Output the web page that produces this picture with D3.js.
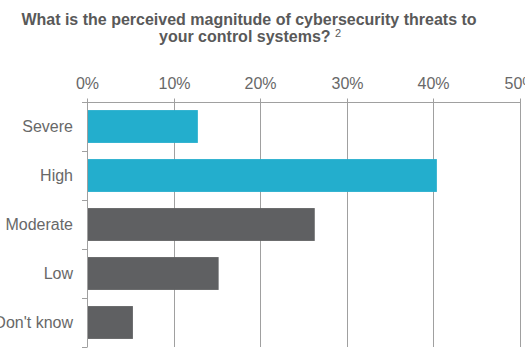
<!DOCTYPE html>
<html>
<head>
<meta charset="utf-8">
<script src="https://cdn.jsdelivr.net/npm/d3@7"></script>
<style>
  body { margin: 0; background: #fff; }
  svg { display: block; font-family: "Liberation Sans", Arial, sans-serif; }
</style>
</head>
<body>
<svg id="chart" width="525" height="362"></svg>
<script>
// chart data
const categories = ["Severe", "High", "Moderate", "Low", "Don't know"];
const values = [12.8, 40.4, 26.3, 15.2, 5.3];
const barColors = ["#23aecd", "#23aecd", "#5f6062", "#5f6062", "#5f6062"];
const tickValues = [0, 10, 20, 30, 40, 50];
const titleLines = ["What is the perceived magnitude of cybersecurity threats to", "your control systems?"];

const svg = d3.select("#chart");
const textColor = "#595959";
const labelColor = "#686868";
const axisColor = "#a0a0a0";

const x = d3.scaleLinear().domain([0, 50]).range([87, 520]);
const y = d3.scaleBand()
  .domain(categories)
  .range([102, 347])
  .paddingInner(0.33)
  .paddingOuter(0.165);

// title
svg.append("text")
  .attr("x", 249).attr("y", 25)
  .attr("text-anchor", "middle")
  .attr("font-size", 16).attr("font-weight", "bold")
  .attr("fill", textColor)
  .text(titleLines[0]);
const t2 = svg.append("text")
  .attr("x", 159).attr("y", 42)
  .attr("font-size", 16).attr("font-weight", "bold")
  .attr("fill", textColor);
t2.append("tspan").text(titleLines[1] + " ");
t2.append("tspan").attr("font-size", 11).attr("font-weight", "normal").attr("dy", -5).text("2");

// gridlines
svg.append("g")
  .selectAll("line")
  .data(tickValues.slice(1))
  .join("line")
  .attr("x1", d => Math.round(x(d)) + 0.5)
  .attr("x2", d => Math.round(x(d)) + 0.5)
  .attr("y1", 102).attr("y2", 347)
  .attr("stroke", axisColor);

// bars
svg.append("g")
  .selectAll("rect")
  .data(categories)
  .join("rect")
  .attr("x", x(0) + 1)
  .attr("y", d => y(d))
  .attr("width", (d, i) => x(values[i]) - x(0) - 1)
  .attr("height", y.bandwidth())
  .attr("fill", (d, i) => barColors[i]);

// top axis
const xAxis = svg.append("g")
  .attr("transform", "translate(0,102.5)")
  .call(d3.axisTop(x).tickValues(tickValues).tickFormat(d => d + "%").tickSize(4).tickPadding(10));
xAxis.select(".domain").attr("stroke", axisColor).attr("d", "M82,0H520.5");
xAxis.selectAll(".tick line").attr("stroke", axisColor);
xAxis.selectAll(".tick").attr("transform", d => `translate(${Math.round(x(d)) + 0.5},0)`);
xAxis.selectAll(".tick text")
  .attr("fill", labelColor)
  .attr("font-size", 16)
  .attr("font-family", "Liberation Sans, Arial, sans-serif");

// left axis with boundary ticks
const left = svg.append("g");
left.append("line")
  .attr("x1", 87.5).attr("x2", 87.5)
  .attr("y1", 102).attr("y2", 347)
  .attr("stroke", axisColor);
const bounds = categories.map(c => y(c) - y.step() * y.paddingOuter()).concat([347]);
left.selectAll("line.b")
  .data(bounds)
  .join("line")
  .attr("class", "b")
  .attr("x1", 82).attr("x2", 87.5)
  .attr("y1", d => Math.round(d) + 0.5)
  .attr("y2", d => Math.round(d) + 0.5)
  .attr("stroke", axisColor);
left.selectAll("text")
  .data(categories)
  .join("text")
  .attr("x", 73)
  .attr("y", d => y(d) + y.bandwidth() / 2)
  .attr("dy", "0.35em")
  .attr("text-anchor", "end")
  .attr("font-size", 16)
  .attr("fill", labelColor)
  .text(d => d);
</script>
</body>
</html>
